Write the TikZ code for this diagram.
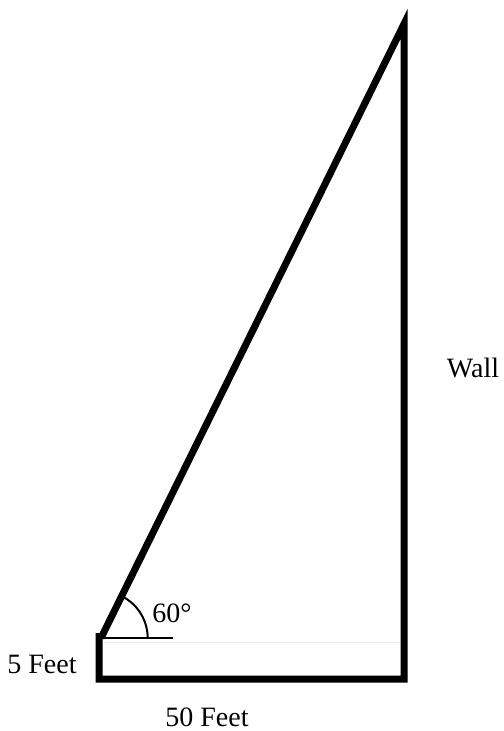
\documentclass[tikz,border=0pt]{standalone}
\usepackage{fontspec}
\setmainfont{Liberation Serif}
\begin{document}
\begin{tikzpicture}[x=0.75pt,y=-0.75pt,
    wallline/.style={line width=5.25pt,line join=miter},
    lbl/.style={inner sep=0pt,font=\fontsize{21}{25}\selectfont}]
        \useasboundingbox(0,0)rectangle(503,731);
        \coordinate(A)at(101,638);
        \coordinate(B)at(404,24);
        \coordinate(C)at(404,679);
        \coordinate(D)at(99,679);
        \coordinate(E)at(99,633);
        \coordinate(H)at(173,638);
        \coordinate(G1)at(103,642);
        \coordinate(G2)at(401,642);
        \node[lbl](wall)at(473,368){Wall};
        \node[lbl](height)at(42,664){5 Feet};
        \node[lbl](width)at(207,717){50 Feet};
        \node[lbl](angle)at(172,613){60°};
        \draw[gray!15,line width=0.75pt](G1)--(G2);
        \draw[wallline](A)--(B)--(C)--(D)--(E);
        \draw[line width=1.5pt](A)--(H);
        \draw[line width=1.5pt]([xshift=35pt]A)arc[start angle=0,end angle=62,radius=35pt];
    \end{tikzpicture}
\end{document}
